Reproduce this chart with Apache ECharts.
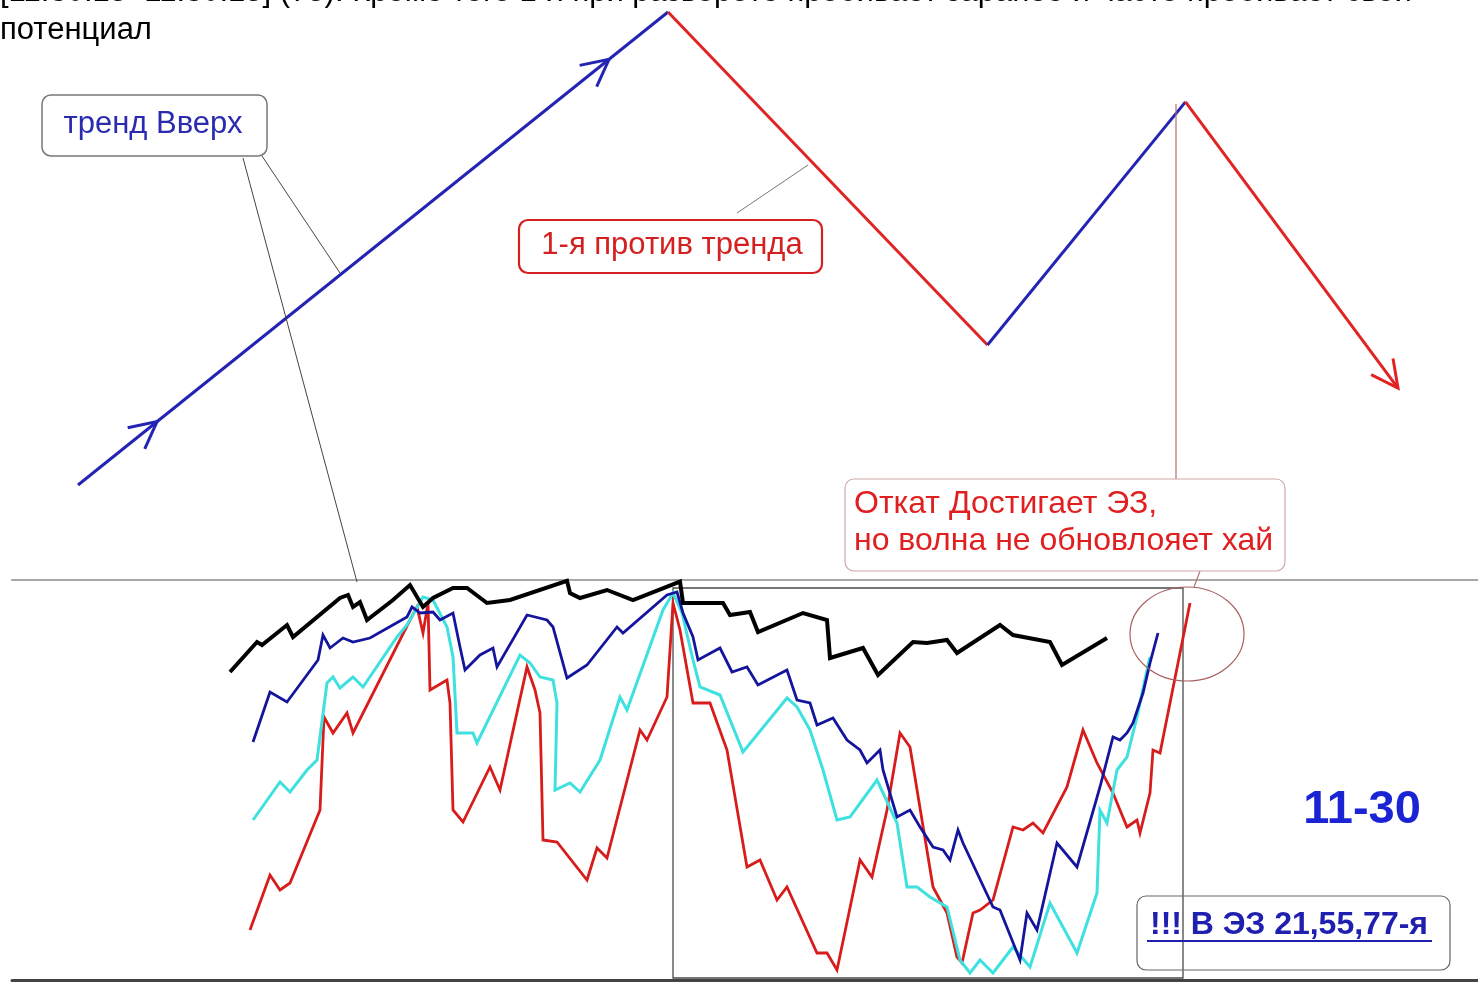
<!DOCTYPE html>
<html><head><meta charset="utf-8">
<script src="https://cdn.jsdelivr.net/npm/echarts@6/dist/echarts.min.js"></script>
<style>html,body{margin:0;padding:0;background:#fff}#c{width:1478px;height:983px}</style>
</head><body><div id="c"></div>
<script>
// ---- top schematic wave (x: 0..100, y: 0..100)
const waveX = [0, 44.7, 68.9, 83.9, 100];
const waveY = [0, 100, 29.6, 81, 20.5];
const waveColors = ['#2424b4', '#e02424', '#2424b4', '#e02424'];
// arrow marks: [segment index, fraction along segment]
const waveArrows = [[0, 0.134], [0, 0.90], [3, 1.0]];

// ---- lower panel (x: bar index, y: price 0..100)
const blackLine = [[0,77],[6.75,84.5],[8,83.75],[14.25,88.75],[15.75,85.75],[27.5,95.5],[29.5,96.25],[30.75,93.25],[32.5,94.5],[34.25,90],[40.75,95],[45,98.75],[48.25,93.25],[50.75,95.5],[55.75,98],[59.25,98],[64.25,94.25],[70,95],[84.25,99.8],[85,96.75],[87.5,95.5],[94.25,97.5],[100.75,95],[112.5,99.6],[113.25,94.25],[123.25,94.25],[125,91.25],[130,92],[132,87],[143.25,91.75],[149.25,90],[150,80.5],[158.25,83],[162,76.25],[170.75,84.5],[174.25,84.25],[179.25,85],[181.75,81.75],[192.5,88.75],[195.75,86.25],[205,84.5],[208,78.75],[219.25,85.5]];
const blueLine = [[5.75,59.5],[10,72],[14.25,69.5],[22,80],[23.25,86.25],[25,83],[28.25,85.5],[30.75,84.5],[35,85.5],[44.25,90.75],[45.5,93.25],[47.5,91.75],[50.75,92],[52.5,90],[55.75,91.75],[57.5,83.25],[58.75,77.5],[62.5,81.25],[65.75,83],[66.75,78.25],[74.25,91.25],[79.25,90],[80.75,88.25],[84.25,75.5],[89.25,78.75],[96.75,88.25],[98.25,86.75],[109.25,96.25],[111.75,97],[113.25,91.75],[115.75,85.75],[117,80],[122.5,83],[125.5,77],[129.25,78.25],[132,73.75],[139.25,77.5],[141.75,70],[145,69.25],[146.75,63.75],[150.75,65.5],[154.25,60],[157.5,57.5],[159.25,54.25],[162.5,57.5],[163.25,52.5],[166.75,40.75],[170,42.5],[172.5,38.25],[175.75,33.25],[178.25,32.5],[180,30],[182,37.5],[183.25,34.25],[190.75,18.25],[192.5,17.5],[197.5,5],[199.25,16.75],[201.75,12.5],[206.75,34.25],[211.75,28.25],[217.5,48.25],[220.75,60.75],[222.5,60],[224.25,61.75],[225.75,64.25],[228.25,71.75],[230,79.25],[232,86.75]];
const cyanLine = [[5.75,40],[12.5,49.5],[15,47],[19.25,52.5],[21.75,55],[24.25,74.25],[25.75,75.75],[27.5,73],[30.75,75.75],[33.25,73.25],[41.75,85.75],[44.25,88.75],[48.25,95.75],[50.75,95],[54.25,88.25],[55.75,80.75],[56.75,61.75],[60.75,61.75],[61.75,59.25],[72.5,81.25],[75,79.25],[77.5,75.75],[80.75,75],[81.75,69.25],[81.25,47.5],[85,49.25],[87.5,47],[92.5,55],[97.5,70.75],[99.25,67.5],[108.25,92.5],[110.75,96.75],[113,91.75],[115.75,80],[117.5,73.25],[122.5,71.25],[128.25,57],[139.25,70.5],[141.75,68.25],[145,62.5],[148.25,52.5],[151.75,40],[155,40.75],[161.75,50],[166.75,39.25],[169.25,23.25],[171.75,23.25],[175,20.75],[179.25,18.25],[182.5,5],[185,1.75],[187.5,5],[190.75,1.75],[195.75,8.25],[200,3.25],[205,19.25],[211.75,6.75],[216.75,21.75],[217.5,42.5],[219.25,39.25],[221.75,52.5],[224.25,55.75],[226.75,65.75],[229.25,77.5],[230,80.75]];
const redLine = [[5,12.5],[10,26.25],[12.5,22.5],[15,24.25],[22.5,42.5],[23.5,65.75],[25.75,61.75],[29.25,66.75],[30.75,61.75],[45,90],[46.75,93.25],[48.25,86.75],[49.5,94.25],[50,72.5],[54.25,75],[55,69.25],[55.75,42.5],[58.25,39.5],[65,53.25],[67.5,47.5],[74.25,78.25],[76.25,72.5],[77.5,66.75],[78.25,35],[81.75,34.5],[89.25,25],[91.75,33],[94.25,30.5],[102.5,62.5],[104.25,60],[109.25,70.75],[110.75,94.25],[112.5,87.5],[115.75,69.25],[120,69.25],[124.25,57.5],[129.25,28.25],[132.5,30],[136.75,20],[139.25,23.25],[146.75,6.75],[149.25,6.75],[151.75,2.5],[157.5,30],[160.5,25.75],[164.25,42.5],[167.5,61.75],[170,58.25],[175.75,23.25],[179.25,16.75],[181.75,5.75],[183,4.25],[185.75,16.75],[187.5,17.5],[190.75,20],[195.75,38.25],[198.25,37.5],[200.75,39.25],[203.25,36.75],[209.25,48.25],[213.25,62.5],[216.75,54.25],[220.75,46.75],[224.25,38.25],[226.75,40],[227.5,36.75],[230,46.75],[230.75,57.5],[232.5,56.75],[240,94.25]];
const zoneBox = [[110.75, 98], [238.25, 0.5]];

const FONT = '"Liberation Sans", Arial, sans-serif';
const chart = echarts.init(document.getElementById('c'), null, {renderer: 'canvas'});

const waveSeries = waveColors.map((c, i) => ({
  type: 'line', xAxisIndex: 0, yAxisIndex: 0, symbol: 'none', silent: true,
  data: [[waveX[i], waveY[i]], [waveX[i + 1], waveY[i + 1]]],
  lineStyle: {color: c, width: 3}, z: 3
}));

function lowSeries(data, color, width, z, extra) {
  return Object.assign({
    type: 'line', xAxisIndex: 1, yAxisIndex: 1, symbol: 'none', silent: true,
    data: data, lineStyle: {color: color, width: width, join: 'miter'}, z: z
  }, extra || {});
}

chart.setOption({
  animation: false,
  backgroundColor: '#ffffff',
  grid: [
    {left: 78, right: 80, top: 12, bottom: 498},
    {left: 12, right: 0, top: 580, bottom: 3}
  ],
  xAxis: [
    {gridIndex: 0, type: 'value', min: 0, max: 100, show: false},
    {gridIndex: 1, type: 'value', min: -54.5, max: 312, position: 'bottom',
      axisLine: {show: true, onZero: false, lineStyle: {color: '#444', width: 3}},
      axisTick: {show: false}, axisLabel: {show: false}, splitLine: {show: false}},
    {gridIndex: 1, type: 'value', min: -54.5, max: 312, position: 'top',
      axisLine: {show: true, onZero: false, lineStyle: {color: '#a8a8a8', width: 2}},
      axisTick: {show: false}, axisLabel: {show: false}, splitLine: {show: false}}
  ],
  yAxis: [
    {gridIndex: 0, type: 'value', min: 0, max: 100, show: false},
    {gridIndex: 1, type: 'value', min: 0, max: 100, show: false}
  ],
  series: waveSeries.concat([
    lowSeries(redLine, '#d81c1c', 2.8, 4),
    lowSeries(cyanLine, '#3ee0e0', 3, 5),
    lowSeries(blueLine, '#14149c', 2.8, 6),
    lowSeries(blackLine, '#000000', 4, 7, {
      markArea: {silent: true, itemStyle: {color: 'rgba(0,0,0,0)', borderColor: '#4a4a4a', borderWidth: 1.3},
        data: [[{coord: zoneBox[0]}, {coord: zoneBox[1]}]]}
    })
  ])
});

// arrowheads computed through the wave scale
const arrowEls = waveArrows.map(([seg, f]) => {
  const a = chart.convertToPixel({gridIndex: 0}, [waveX[seg], waveY[seg]]);
  const b = chart.convertToPixel({gridIndex: 0}, [waveX[seg + 1], waveY[seg + 1]]);
  const tip = [a[0] + (b[0] - a[0]) * f, a[1] + (b[1] - a[1]) * f];
  const ang = Math.atan2(a[1] - b[1], a[0] - b[0]);
  const L = 30, s = 27 * Math.PI / 180;
  const w1 = [tip[0] + L * Math.cos(ang + s), tip[1] + L * Math.sin(ang + s)];
  const w2 = [tip[0] + L * Math.cos(ang - s), tip[1] + L * Math.sin(ang - s)];
  return {type: 'polyline', z: 20, shape: {points: [w1, tip, w2]},
    style: {stroke: waveColors[seg], lineWidth: 3, fill: null, lineJoin: 'miter'}};
});

function txt(x, y, text, size, color, opts) {
  return Object.assign({type: 'text', x: x, y: y, z: 30,
    style: Object.assign({text: text, fill: color, font: size + 'px ' + FONT,
      textAlign: 'left', textVerticalAlign: 'middle', align: 'left', verticalAlign: 'middle'}, opts || {})});
}
function line(x1, y1, x2, y2, color, w) {
  return {type: 'line', z: 15, shape: {x1: x1, y1: y1, x2: x2, y2: y2}, style: {stroke: color, lineWidth: w}};
}
function box(x, y, w, h, stroke, lw) {
  return {type: 'rect', z: 25, shape: {x: x, y: y, width: w, height: h, r: 9},
    style: {fill: '#ffffff', stroke: stroke, lineWidth: lw}};
}

const annotations = [
  txt(0, -23, '[11:30:15–11:30:15] (75). Кроме того 1-я при развороте пробивает заранее и часто пробивает свой', 31, '#000', {textVerticalAlign: 'top', verticalAlign: 'top'}),
  txt(0, 30, 'потенциал', 31, '#000'),
  // тренд Вверх
  line(243, 158, 357, 582, '#444', 1),
  line(262, 156, 340, 273, '#444', 1),
  box(42, 95, 225, 61, '#777', 1.5),
  txt(153, 124, 'тренд Вверх', 31, '#2b2bb0', {textAlign: 'center', align: 'center'}),
  // 1-я против тренда
  line(737, 213, 808, 165, '#777', 1),
  box(519, 220, 303, 53, '#d42020', 2.2),
  txt(672, 245, '1-я против тренда', 31, '#d42020', {textAlign: 'center', align: 'center'}),
  // Откат
  line(1176, 104, 1176, 479, '#b07070', 1.2),
  line(1200, 571, 1194, 587, '#b07070', 1.2),
  box(845, 479, 440, 92, '#d0a8a8', 1.2),
  txt(854, 504, 'Откат Достигает ЭЗ,', 32, '#e02020'),
  txt(854, 541, 'но волна не обновлояет хай', 32, '#e02020'),
  {type: 'ellipse', z: 20, shape: {cx: 1187, cy: 634, rx: 57, ry: 47}, style: {fill: null, stroke: '#a86060', lineWidth: 1.2}},
  // 11-30
  txt(1362, 810, '11-30', 47, '#1a24d4', {textAlign: 'center', align: 'center', font: 'bold 47px ' + FONT}),
  // !!! В ЭЗ
  {type: 'rect', z: 25, shape: {x: 1137, y: 896, width: 313, height: 74, r: 9}, style: {fill: 'rgba(255,255,255,0)', stroke: '#666', lineWidth: 1.2}},
  txt(1289, 925, '!!! В ЭЗ 21,55,77-я', 32, '#2020b0', {textAlign: 'center', align: 'center', font: 'bold 32px ' + FONT}),
  line(1147, 941, 1432, 941, '#2020b0', 2)
];

chart.setOption({graphic: annotations.concat(arrowEls)});
</script>
</body></html>
